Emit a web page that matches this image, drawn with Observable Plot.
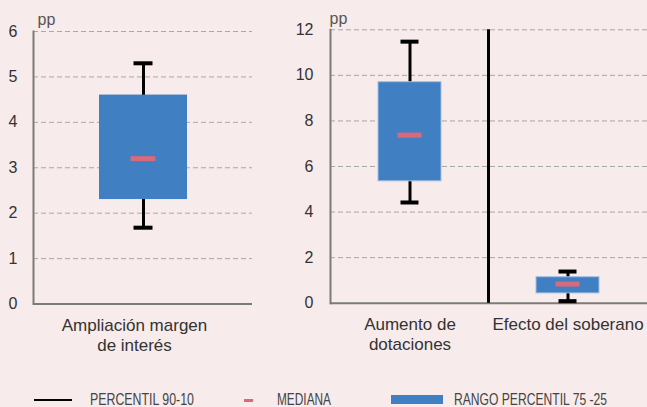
<!DOCTYPE html>
<html>
<head>
<meta charset="utf-8">
<script src="https://cdn.jsdelivr.net/npm/d3@7"></script>
<script src="https://cdn.jsdelivr.net/npm/@observablehq/plot@0.6"></script>
<style>
  html, body { margin: 0; padding: 0; background: #f7ebeb; }
  #wrap { position: relative; width: 647px; height: 407px; overflow: hidden; background: #f7ebeb; }
  #charts { position: absolute; left: 0; top: 0; display: flex; }
  .leg { position: absolute; font-family: "Liberation Sans Narrow", "Liberation Sans", Arial, sans-serif; font-size: 16px; color: #444; transform-origin: left center; white-space: nowrap; line-height: 16px; }
  .sw { position: absolute; }
</style>
</head>
<body>
<div id="wrap">
  <div id="charts"></div>
</div>
<script>
// ---- Data ----
const categoriesLeft = ["Ampliación margen\nde interés"];
const p10Left = [1.68];
const p25Left = [2.3];
const medianLeft = [3.2];
const p75Left = [4.6];
const p90Left = [5.3];
const yTicksLeft = [0, 1, 2, 3, 4, 5, 6];

const categoriesRight = ["Aumento de\ndotaciones", "Efecto del soberano"];
const p10Right = [4.42, 0.09];
const p25Right = [5.35, 0.43];
const medianRight = [7.38, 0.84];
const p75Right = [9.7, 1.14];
const p90Right = [11.48, 1.39];
const yTicksRight = [0, 2, 4, 6, 8, 10, 12];

const unitLabel = "pp";
const legendLabels = ["PERCENTIL 90-10", "MEDIANA", "RANGO PERCENTIL 75 -25"];

// ---- Style ----
const BLUE = "#3f7fc2";
const PINK = "#d96a7b";
const GRID = "#a9a9a9";
const AXIS = "#7b7b7b";
const TEXT = "#333333";

function makeRows(cats, p10, p25, med, p75, p90) {
  return cats.map((c, i) => ({cat: c, p10: p10[i], p25: p25[i], med: med[i], p75: p75[i], p90: p90[i]}));
}

function panel(o) {
  const rows = o.rows;
  const marks = [
    Plot.gridY(o.yTicks.filter(d => d !== 0), {stroke: GRID, strokeOpacity: 1, strokeDasharray: "5,3", strokeWidth: 1}),
    Plot.frame({anchor: "left", stroke: AXIS, strokeWidth: 2}),
    Plot.ruleY([0], {stroke: AXIS, strokeWidth: 2}),
    Plot.axisY(o.yTicks, {tickSize: 0, tickPadding: o.tickPad, fontSize: 16, fill: TEXT, label: null}),
    Plot.axisX({tickSize: 0, tickPadding: 13, fontSize: 17, lineHeight: 1.18, fill: TEXT, label: null, dx: o.labelDx}),
    Plot.text([unitLabel], {frameAnchor: "top-left", dx: o.ppDx, dy: o.ppDy, textAnchor: "start", fontSize: 16, fill: "#555"}),
    Plot.ruleX(rows, {x: "cat", y1: "p10", y2: "p90", stroke: "black", strokeWidth: 3}),
    Plot.tickY(rows, {x: "cat", y: "p90", stroke: "black", strokeWidth: 4, insetLeft: o.capInset, insetRight: o.capInset}),
    Plot.tickY(rows, {x: "cat", y: "p10", stroke: "black", strokeWidth: 4, insetLeft: o.capInset, insetRight: o.capInset}),
    Plot.barY(rows, {x: "cat", y1: "p25", y2: "p75", fill: BLUE, stroke: o.boxStroke, strokeWidth: 1}),
    Plot.tickY(rows, {x: "cat", y: "med", stroke: PINK, strokeWidth: 5, insetLeft: o.medInset, insetRight: o.medInset})
  ];
  if (o.divider) {
    marks.push((index, scales) => {
      const x = scales.x, y = scales.y;
      let bw = x.bandwidth;
      if (typeof bw === "function") bw = bw();
      if (typeof bw !== "number" || isNaN(bw)) bw = scales.scales && scales.scales.x ? scales.scales.x.bandwidth : 0;
      const xm = (x(rows[0].cat) + bw + x(rows[1].cat)) / 2;
      const line = d3.create("svg:line")
        .attr("x1", xm).attr("x2", xm)
        .attr("y1", y(0)).attr("y2", y(o.yMax))
        .attr("stroke", "black").attr("stroke-width", 3);
      return line.node();
    });
  }
  return Plot.plot({
    width: o.width,
    height: o.height,
    marginLeft: o.marginLeft,
    marginRight: o.marginRight,
    marginTop: o.marginTop,
    marginBottom: o.marginBottom,
    style: {background: "transparent", fontFamily: "'Liberation Sans', Arial, sans-serif", overflow: "visible"},
    x: {domain: rows.map(d => d.cat), paddingInner: 0.6, paddingOuter: 0.3},
    y: {domain: [0, o.yMax]},
    marks
  });
}

const leftRows = makeRows(categoriesLeft, p10Left, p25Left, medianLeft, p75Left, p90Left);
const rightRows = makeRows(categoriesRight, p10Right, p25Right, medianRight, p75Right, p90Right);

const charts = document.getElementById("charts");
charts.append(panel({
  rows: leftRows, width: 260, height: 365, marginLeft: 33, marginRight: 8, marginTop: 31, marginBottom: 61.5,
  yMax: 6, yTicks: yTicksLeft, tickPad: 16, capInset: 34.5, medInset: 31.5, boxStroke: "none",
  ppDx: 4, ppDy: -18, labelDx: -9, divider: false
}));
charts.append(panel({
  rows: rightRows, width: 387, height: 365, marginLeft: 70, marginRight: 0, marginTop: 29.3, marginBottom: 62.3,
  yMax: 12, yTicks: yTicksRight, tickPad: 17, capInset: 22.5, medInset: 19.5, boxStroke: "#a3bfe3",
  ppDx: -1, ppDy: -17, labelDx: 0, divider: true
}));

// ---- Legend ----
const wrap = document.getElementById("wrap");
function sw(left, top, w, h, color) {
  const d = document.createElement("div");
  d.className = "sw";
  Object.assign(d.style, {left: left + "px", top: top + "px", width: w + "px", height: h + "px", background: color});
  wrap.append(d);
}
function lt(left, text, targetWidth) {
  const d = document.createElement("div");
  d.className = "leg";
  d.style.left = left + "px";
  d.style.top = "392px";
  d.textContent = text;
  wrap.append(d);
  const w = d.getBoundingClientRect().width;
  if (w > 0) d.style.transform = "scaleX(" + (targetWidth / w) + ")";
}
sw(34, 399, 38, 2, "#000");
lt(90, legendLabels[0], 104);
sw(244, 398.5, 9, 3, PINK);
lt(277, legendLabels[1], 54);
sw(391, 395, 52, 9, BLUE);
lt(454, legendLabels[2], 153);
</script>
</body>
</html>
